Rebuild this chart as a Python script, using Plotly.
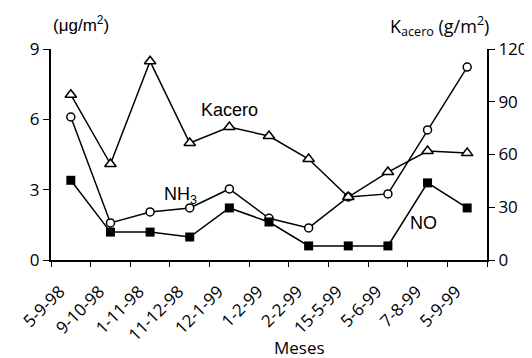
import plotly.graph_objects as go

meses = ["5-9-98", "9-10-98", "1-11-98", "11-12-98", "12-1-99", "1-2-99",
         "2-2-99", "15-5-99", "5-6-99", "7-8-99", "5-9-99"]
kacero = [94, 54.6, 113, 66.5, 75.6, 70.5, 57.4, 35.8, 50, 62, 60.8]
nh3 = [6.1, 1.58, 2.05, 2.22, 3.03, 1.78, 1.37, 2.69, 2.82, 5.55, 8.23]
no = [3.4, 1.19, 1.19, 0.98, 2.22, 1.62, 0.6, 0.6, 0.6, 3.29, 2.22]

font_main = "Open Sans, Noto Sans, sans-serif"
font_lbl = "Liberation Sans, Arial, sans-serif"

fig = go.Figure()
fig.add_trace(go.Scatter(x=meses, y=no, mode="lines+markers", name="NO",
                         xaxis="x2",
                         line=dict(color="black", width=1.5),
                         marker=dict(symbol="square", size=9, color="black")))
fig.add_trace(go.Scatter(x=meses, y=nh3, mode="lines+markers", name="NH3",
                         line=dict(color="black", width=1.5),
                         marker=dict(symbol="circle", size=8, color="white",
                                     line=dict(color="black", width=1.5))))
fig.add_trace(go.Scatter(x=meses, y=kacero, mode="lines+markers", name="Kacero",
                         yaxis="y2",
                         line=dict(color="black", width=1.5),
                         marker=dict(symbol="triangle-up", size=10, color="white",
                                     line=dict(color="black", width=1.5))))

ann = dict(showarrow=False, xanchor="center", yanchor="middle")
xrange = [-0.5, len(meses) - 0.5]

fig.update_layout(
    width=524, height=350,
    margin=dict(l=43, r=45, t=41, b=98),
    paper_bgcolor="white", plot_bgcolor="white",
    showlegend=False,
    font=dict(family=font_main, size=16, color="black"),
    xaxis=dict(type="category", categoryorder="array", categoryarray=meses,
               range=xrange, tickson="boundaries", ticks="outside", ticklen=5,
               tickwidth=1, tickcolor="black", showticklabels=False,
               automargin=False, showline=True, linecolor="black", linewidth=2,
               showgrid=False, zeroline=False),
    xaxis2=dict(type="category", categoryorder="array", categoryarray=meses,
                range=xrange, overlaying="x", anchor="y", side="bottom",
                ticks="outside", ticklen=14, tickcolor="rgba(0,0,0,0)",
                tickangle=-45, ticklabelshift=-11, automargin=False,
                showline=False, showgrid=False, zeroline=False,
                tickfont=dict(size=17, family=font_main)),
    yaxis=dict(range=[0, 9], tickvals=[0, 3, 6, 9], ticks="outside", ticklen=6,
               tickwidth=1, tickcolor="black", showline=True, linecolor="black",
               linewidth=2, showgrid=False, zeroline=False, automargin=False,
               tickfont=dict(size=17, family=font_main)),
    yaxis2=dict(range=[0, 120], tickvals=[0, 30, 60, 90, 120], overlaying="y",
                side="right", ticks="outside", ticklen=6, tickwidth=1,
                tickcolor="black", showline=True, linecolor="black", linewidth=2,
                showgrid=False, zeroline=False, automargin=False,
                tickfont=dict(size=17, family=font_main)),
    annotations=[
        dict(text="Meses", xref="paper", yref="paper", x=0.57, y=-0.415,
             font=dict(size=17, family=font_main), **ann),
        dict(text="(μg/m<sup>2</sup>)", xref="paper", yref="paper", x=0.0, y=1.118,
             showarrow=False, xanchor="left", yanchor="middle",
             font=dict(size=17, family=font_lbl)),
        dict(text="K<sub>acero</sub> (g/m<sup>2</sup>)", xref="paper", yref="paper",
             x=0.892, y=1.109, font=dict(size=18, family=font_main), **ann),
        dict(text="Kacero", xref="x", yref="y", x=4, y=6.4,
             font=dict(size=18, family=font_lbl), **ann),
        dict(text="NH<sub>3</sub>", xref="x", yref="y", x=2.76, y=2.77,
             font=dict(size=18, family=font_lbl), **ann),
        dict(text="NO", xref="x", yref="y", x=8.9, y=1.58,
             font=dict(size=18, family=font_lbl), **ann),
    ],
)

fig.write_html("out.html")
